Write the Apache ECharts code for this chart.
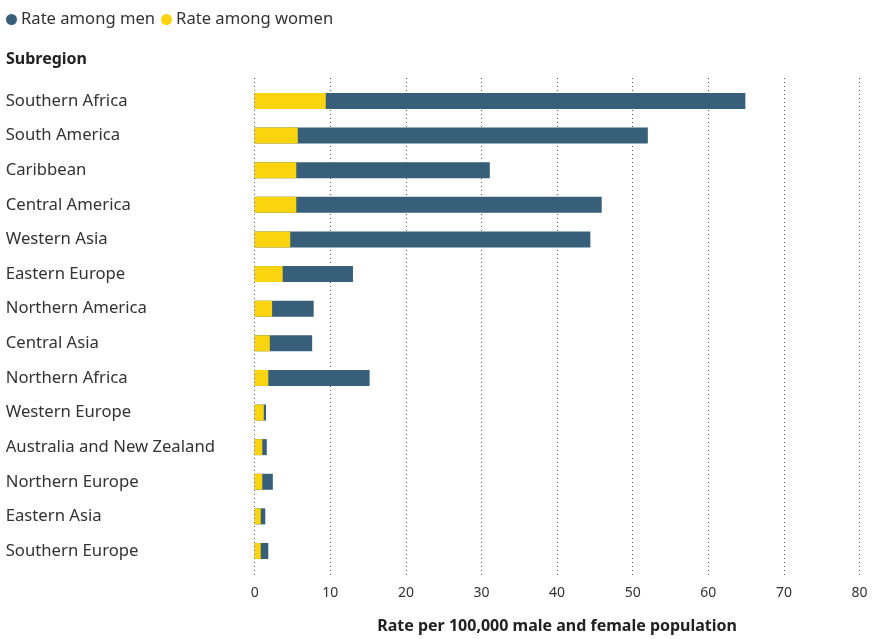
<!DOCTYPE html>
<html>
<head>
<meta charset="utf-8">
<script src="https://cdn.jsdelivr.net/npm/echarts@6/dist/echarts.min.js"></script>
<style>
  html, body { margin: 0; padding: 0; background: #fff; }
  #chart { width: 874px; height: 639px; }
</style>
</head>
<body>
<div id="chart"></div>
<script>
// subregions, top to bottom
const subregions = [
  'Southern Africa', 'South America', 'Caribbean', 'Central America', 'Western Asia',
  'Eastern Europe', 'Northern America', 'Central Asia', 'Northern Africa', 'Western Europe',
  'Australia and New Zealand', 'Northern Europe', 'Eastern Asia', 'Southern Europe'
]
// rate per 100,000
const menRate = [64.9, 52.0, 31.1, 45.9, 44.4, 13.0, 7.8, 7.6, 15.2, 1.5, 1.6, 2.4, 1.4, 1.8]
const womenRate = [9.4, 5.7, 5.5, 5.5, 4.7, 3.7, 2.3, 2.0, 1.8, 1.2, 1.0, 1.0, 0.8, 0.8]
const xTicks = [0, 10, 20, 30, 40, 50, 60, 70, 80]

const FONT = '"Noto Sans", sans-serif'
const chart = echarts.init(document.getElementById('chart'))

chart.setOption({
  animation: false,
  textStyle: { fontFamily: FONT },
  title: {
    text: 'Subregion', left: 1, top: 46,
    textStyle: { fontSize: 16, fontWeight: 'bold', color: '#222', fontFamily: FONT }
  },
  legend: {
    left: 1, top: 6, icon: 'circle', itemWidth: 11, itemHeight: 11, itemGap: 6,
    textStyle: { fontSize: 16.6, color: '#333', fontFamily: FONT, padding: [0, 0, 0, -1] },
    data: ['Rate among men', 'Rate among women']
  },
  grid: [
    { left: 254.7, right: 14.5, top: 83.7, height: 484.6 },   // bars
    { left: 254.7, right: 14.5, top: 78, height: 504 }        // dotted grid + labels
  ],
  xAxis: [
    { gridIndex: 0, type: 'value', min: 0, max: 80, interval: 10, show: false },
    {
      gridIndex: 1, type: 'value', min: xTicks[0], max: xTicks[xTicks.length - 1], interval: 10,
      axisLine: { show: false }, axisTick: { show: false },
      axisLabel: { fontSize: 14, color: '#333', margin: 8, fontFamily: FONT },
      splitLine: { show: true, lineStyle: { type: [1, 3], color: '#555', width: 1 } },
      name: 'Rate per 100,000 male and female population',
      nameLocation: 'middle', nameGap: 40,
      nameTextStyle: { fontSize: 16, fontWeight: 'bold', color: '#222', fontFamily: FONT }
    }
  ],
  yAxis: [
    {
      gridIndex: 0, type: 'category', data: subregions, inverse: true,
      axisLine: { show: false }, axisTick: { show: false },
      axisLabel: { align: 'left', margin: 249, fontSize: 16.7, color: '#333', fontFamily: FONT }
    },
    { gridIndex: 1, type: 'value', show: false }
  ],
  series: [
    {
      name: 'Rate among men', type: 'bar', data: menRate,
      barWidth: 16, barGap: '-100%', itemStyle: { color: '#385f79' }
    },
    {
      name: 'Rate among women', type: 'bar', data: womenRate,
      barWidth: 16, barGap: '-100%', itemStyle: { color: '#f9d40f' }
    }
  ]
})
</script>
</body>
</html>
